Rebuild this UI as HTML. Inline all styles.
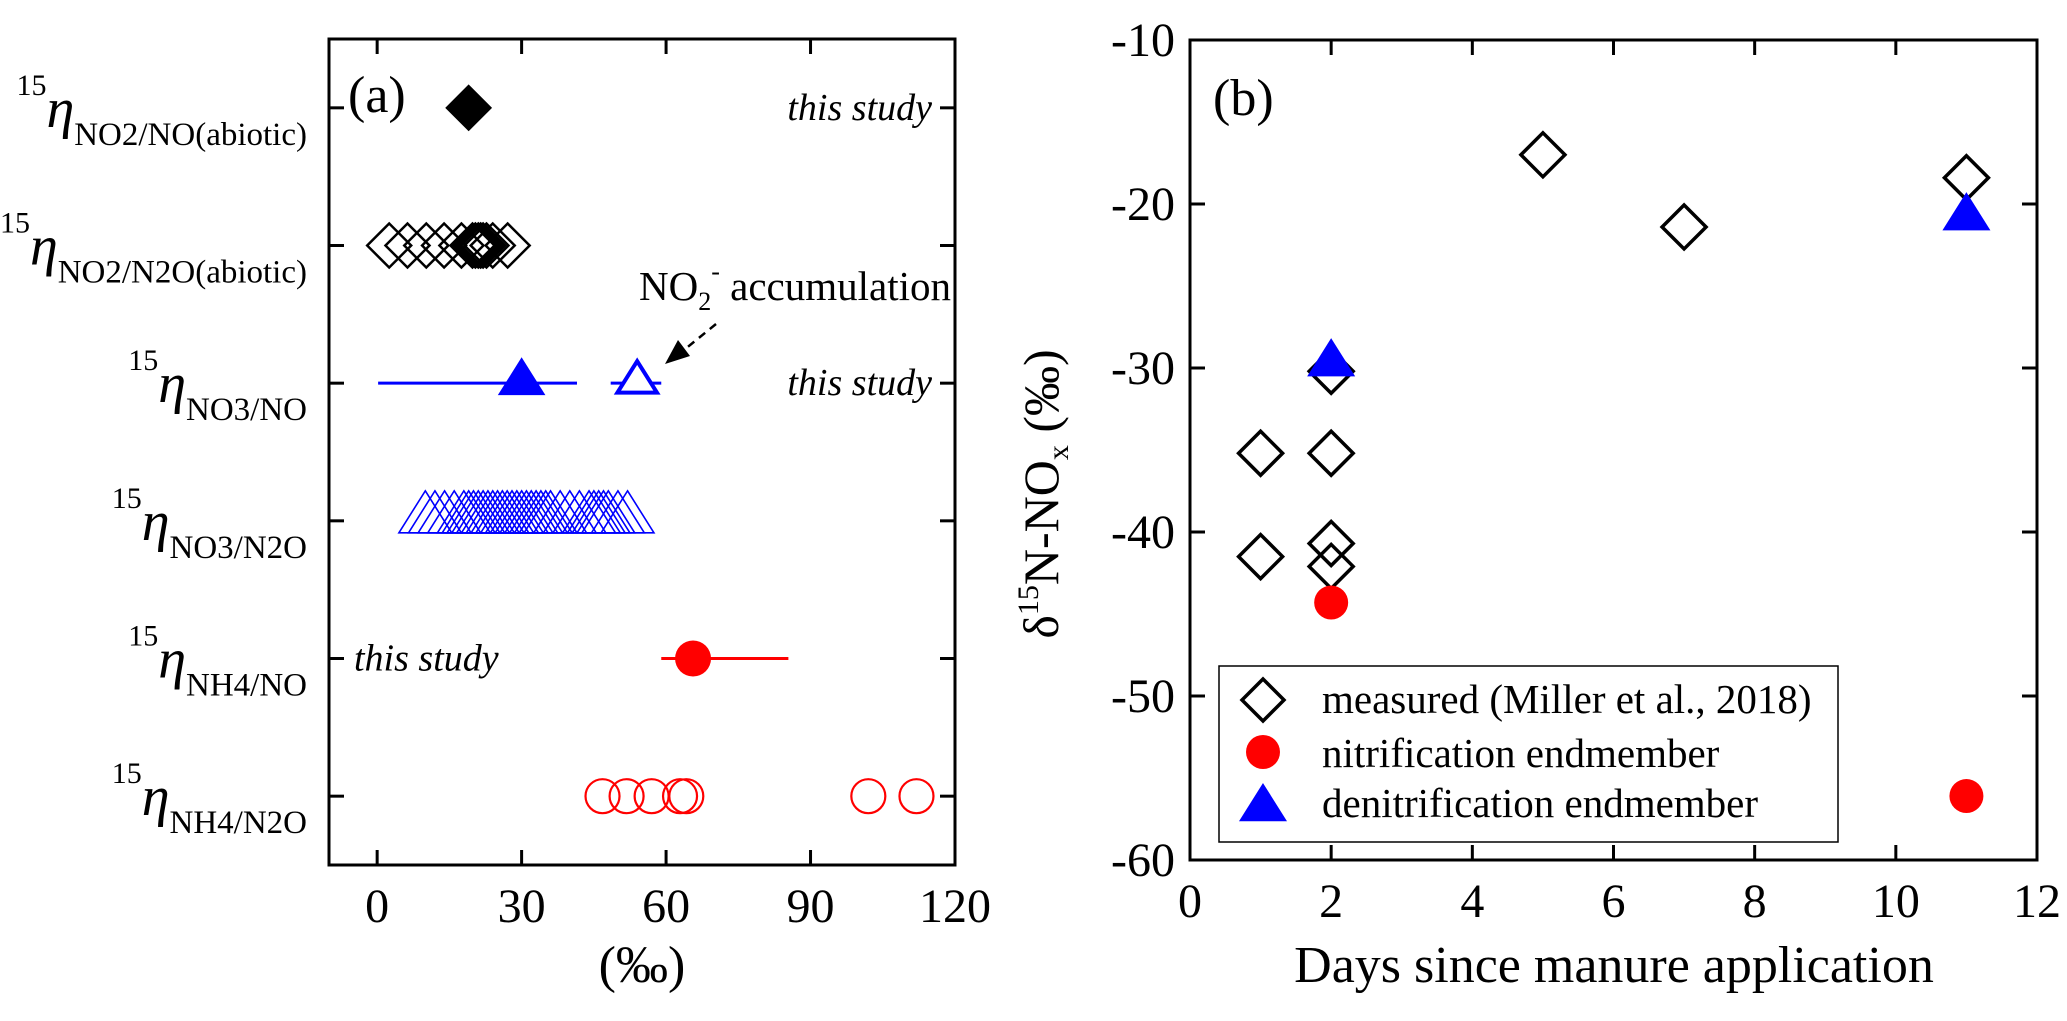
<!DOCTYPE html>
<html><head><meta charset="utf-8"><style>
html,body{margin:0;padding:0;background:#fff;}
svg{display:block;font-family:"Liberation Serif","Times New Roman",serif;}
svg text{font-family:"Liberation Serif","Times New Roman",serif;}
</style></head><body>
<svg id="fig" width="2067" height="1021" viewBox="0 0 2067 1021" xmlns="http://www.w3.org/2000/svg">
<g id="pa"></g>
<g id="pb"></g>
</svg>
<script>
// ---- Panel (a) data ----
const aRows = ["NO2/NO(abiotic)","NO2/N2O(abiotic)","NO3/NO","NO3/N2O","NH4/NO","NH4/N2O"];
const aXTicks = [0,30,60,90,120];
const aNO2NOabiotic = [19];
const aNO2N2Oabiotic = [2.5,6.3,10.2,13.9,17.5,19.8,20.4,21,21.5,22,22.7,24,27.1];
const aNO3NO = [30];
const aNO3NOerr = [0.2,41.5];
const aNO3NOaccum = [54];
const aNO3NOaccumErr = [48.5,59];
const aNO3N2O = [10,12,14,16,18,19,20,21,22,23,24,25,26,27,28,29,30,31,32,33,34,35,36,38,40,42,44,45,46,47,48,50,52];
const aNH4NO = [65.6];
const aNH4NOerr = [59,85.4];
const aNH4N2O = [46.8,51.8,57,62.9,64.2,102,112];
// ---- Panel (b) data ----
const bXTicks = [0,2,4,6,8,10,12];
const bYTicks = [-10,-20,-30,-40,-50,-60];
const bMeasuredX = [1,1,2,2,2,2,5,7,11];
const bMeasuredY = [-35.2,-41.5,-30.2,-35.2,-40.7,-42.1,-17,-21.4,-18.4];
const bNitrX = [2,11];
const bNitrY = [-44.3,-56.1];
const bDenitX = [2,11];
const bDenitY = [-29.7,-20.8];

const NS="http://www.w3.org/2000/svg";
function mk(parent,tag,attrs,text){const e=document.createElementNS(NS,tag);for(const k in attrs)e.setAttribute(k,attrs[k]);if(text!==undefined)e.textContent=text;parent.appendChild(e);return e;}

// ---------- Panel A ----------
const pa=document.getElementById('pa');
const A={l:329,r:955,t:39,b:865,x0:-10,x1:120};
const ax=v=>A.l+(v-A.x0)/(A.x1-A.x0)*(A.r-A.l);
const ay=i=>A.t+(i+0.5)/6*(A.b-A.t);
let e;
e=mk(pa,'rect',{x:A.l,y:A.t,width:A.r-A.l,height:A.b-A.t,fill:'none',stroke:'#000','stroke-width':3});


aXTicks.forEach(v=>{
  mk(pa,'line',{x1:ax(v),x2:ax(v),y1:A.b,y2:A.b-15,stroke:'#000','stroke-width':3});
  mk(pa,'line',{x1:ax(v),x2:ax(v),y1:A.t,y2:A.t+15,stroke:'#000','stroke-width':3});
  e=mk(pa,'text',{x:ax(v),y:A.b+57,'font-size':48,'text-anchor':'middle'},String(v));
  
  
});
aRows.forEach((r,i)=>{
  const y=ay(i);
  mk(pa,'line',{x1:A.l,x2:A.l+15,y1:y,y2:y,stroke:'#000','stroke-width':3});
  mk(pa,'line',{x1:A.r,x2:A.r-15,y1:y,y2:y,stroke:'#000','stroke-width':3});
  const g=mk(pa,'text',{x:307,y:y+37,'text-anchor':'end'});
  
  
  mk(g,'tspan',{'font-size':30,dy:-50},'15');
  mk(g,'tspan',{'font-size':56,'font-style':'italic',dy:32},'η');
  mk(g,'tspan',{'font-size':33,dy:18},r);
});
e=mk(pa,'text',{x:348,y:112,'font-size':52},'(a)');


e=mk(pa,'text',{x:642,y:982,'font-size':52,'text-anchor':'middle'},'(‰)');


[[932,ay(0),'end'],[932,ay(2),'end'],[354,ay(4),'start']].forEach(([x,y,an])=>{
  e=mk(pa,'text',{x:x,y:y+12,'font-size':38,'font-style':'italic','text-anchor':an},'this study');
  
  
});
function diamond(p,cx,cy,s,fill,stroke,sw){return mk(p,'polygon',{points:`${cx},${cy-s} ${cx+s},${cy} ${cx},${cy+s} ${cx-s},${cy}`,fill:fill,stroke:stroke,'stroke-width':sw});}
function tri(p,cx,cy,s,fill,stroke,sw){return mk(p,'polygon',{points:`${cx},${cy-s} ${cx+s*1.1},${cy+s*0.75} ${cx-s*1.1},${cy+s*0.75}`,fill:fill,stroke:stroke,'stroke-width':sw});}
aNO2NOabiotic.forEach(v=>{e=diamond(pa,ax(v),ay(0),22,'#000','#000',2);});
aNO2N2Oabiotic.forEach(v=>{e=diamond(pa,ax(v),ay(1),22,'none','#000',2.5);});
e=mk(pa,'line',{x1:ax(aNO3NOerr[0]),x2:ax(aNO3NOerr[1]),y1:ay(2),y2:ay(2),stroke:'#00f','stroke-width':3});

aNO3NO.forEach(v=>{e=tri(pa,ax(v),ay(2)-4,20,'#00f','#00f',2);});
e=mk(pa,'line',{x1:ax(aNO3NOaccumErr[0]),x2:ax(aNO3NOaccumErr[1]),y1:ay(2),y2:ay(2),stroke:'#00f','stroke-width':3});

aNO3NOaccum.forEach(v=>{e=tri(pa,ax(v),ay(2)-4,18,'#fff','#00f',4);});
aNO3N2O.forEach(v=>{e=tri(pa,ax(v),ay(3)-6,24,'none','#00f',1.6);});
e=mk(pa,'line',{x1:ax(aNH4NOerr[0]),x2:ax(aNH4NOerr[1]),y1:ay(4),y2:ay(4),stroke:'#f00','stroke-width':3});

aNH4NO.forEach(v=>{e=mk(pa,'circle',{cx:ax(v),cy:ay(4),r:18,fill:'#f00'});});
aNH4N2O.forEach(v=>{e=mk(pa,'circle',{cx:ax(v),cy:ay(5),r:17,fill:'none',stroke:'#f00','stroke-width':2.2});});
// annotation
const ann=mk(pa,'text',{x:639,y:300,'font-size':41});


mk(ann,'tspan',{},'NO');
mk(ann,'tspan',{'font-size':26,dy:10},'2');
mk(ann,'tspan',{'font-size':26,dy:-30},'-');
mk(ann,'tspan',{dy:20},' accumulation');
e=mk(pa,'line',{x1:716,y1:324,x2:684,y2:350,stroke:'#000','stroke-width':2.5,'stroke-dasharray':'8,6'});

mk(pa,'polygon',{points:'665,364 678,340 690,356',fill:'#000'});

// ---------- Panel B ----------
const pb=document.getElementById('pb');
const B={l:1190,r:2037,t:40,b:860,x0:0,x1:12,y0:-60,y1:-10};
const bx=v=>B.l+(v-B.x0)/(B.x1-B.x0)*(B.r-B.l);
const by=v=>B.b-(v-B.y0)/(B.y1-B.y0)*(B.b-B.t);
e=mk(pb,'rect',{x:B.l,y:B.t,width:B.r-B.l,height:B.b-B.t,fill:'none',stroke:'#000','stroke-width':3});

bXTicks.forEach(v=>{
  mk(pb,'line',{x1:bx(v),x2:bx(v),y1:B.b,y2:B.b-15,stroke:'#000','stroke-width':3});
  mk(pb,'line',{x1:bx(v),x2:bx(v),y1:B.t,y2:B.t+15,stroke:'#000','stroke-width':3});
  e=mk(pb,'text',{x:bx(v),y:B.b+57,'font-size':48,'text-anchor':'middle'},String(v));
  
});
bYTicks.forEach(v=>{
  mk(pb,'line',{x1:B.l,x2:B.l+15,y1:by(v),y2:by(v),stroke:'#000','stroke-width':3});
  mk(pb,'line',{x1:B.r,x2:B.r-15,y1:by(v),y2:by(v),stroke:'#000','stroke-width':3});
  e=mk(pb,'text',{x:1175,y:by(v)+16,'font-size':48,'text-anchor':'end'},String(v));
  
});
e=mk(pb,'text',{x:1213,y:115,'font-size':52},'(b)');

e=mk(pb,'text',{x:1614,y:982,'font-size':52,'text-anchor':'middle'},'Days since manure application');

const yt=mk(pb,'text',{transform:'translate(1058,494) rotate(-90)','font-size':50,'text-anchor':'middle'});

mk(yt,'tspan',{},'δ');
mk(yt,'tspan',{'font-size':30,dy:-20},'15');
mk(yt,'tspan',{dy:20},'N-NO');
mk(yt,'tspan',{'font-size':30,dy:10},'x');
mk(yt,'tspan',{dy:-10},' (‰)');
mk(pb,'line',{x1:bx(2)-18,x2:bx(2)+18,y1:by(-30.2),y2:by(-30.2),stroke:'#00f','stroke-width':3});
bMeasuredX.forEach((x,i)=>{e=diamond(pb,bx(x),by(bMeasuredY[i]),22,'none','#000',3.5);});
bNitrX.forEach((x,i)=>{e=mk(pb,'ellipse',{cx:bx(x),cy:by(bNitrY[i]),rx:17,ry:17,fill:'#f00'});});
bDenitX.forEach((x,i)=>{e=tri(pb,bx(x),by(bDenitY[i])-3,21,'#00f','#00f',1);});
// legend
const lg=mk(pb,'g',{});

mk(lg,'rect',{x:1219,y:666,width:619,height:176,fill:'#fff',stroke:'#000','stroke-width':1.5});
diamond(lg,1263,700,21,'none','#000',3.5);
mk(lg,'ellipse',{cx:1263,cy:752,rx:17,ry:17,fill:'#f00'});
tri(lg,1263,805,21,'#00f','#00f',1);
[['measured (Miller et al., 2018)',713],['nitrification endmember',767],['denitrification endmember',817]].forEach(([t,y])=>{
  e=mk(lg,'text',{x:1322,y:y,'font-size':41},t);
  
});
</script>
</body></html>
